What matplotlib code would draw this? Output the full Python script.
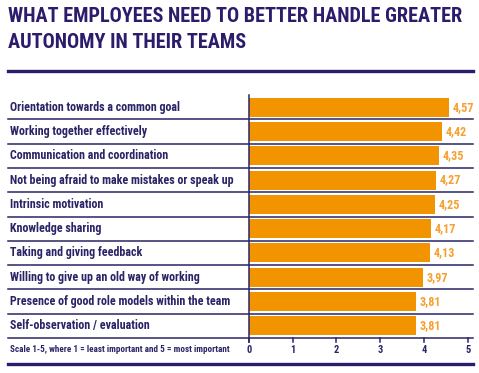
import matplotlib.pyplot as plt
from matplotlib.lines import Line2D
from matplotlib import font_manager

labels = [
    'Orientation towards a common goal',
    'Working together effectively',
    'Communication and coordination',
    'Not being afraid to make mistakes or speak up',
    'Intrinsic motivation',
    'Knowledge sharing',
    'Taking and giving feedback',
    'Willing to give up an old way of working',
    'Presence of good role models within the team',
    'Self-observation / evaluation',
]
values = [4.57, 4.42, 4.35, 4.27, 4.25, 4.17, 4.13, 3.97, 3.81, 3.81]
value_text = ['4,57', '4,42', '4,35', '4,27', '4,25', '4,17', '4,13', '3,97', '3,81', '3,81']
xticks = [0, 1, 2, 3, 4, 5]

title = 'WHAT EMPLOYEES NEED TO BETTER HANDLE GREATER\nAUTONOMY IN THEIR TEAMS'
note = 'Scale 1-5, where 1 = least important and 5 = most important'

names = {f.name for f in font_manager.fontManager.ttflist}
font = 'DejaVu Sans'
for cand in ['Roboto Condensed', 'IBM Plex Sans Condensed', 'Archivo Narrow', 'Barlow Semi Condensed']:
    if cand in names:
        font = cand
        break
plt.rcParams['font.family'] = [font, 'DejaVu Sans']

purple = '#2d1b6b'
navy = '#2a2466'
orange = '#f29400'
orange_txt = '#f5a030'

W, H = 479, 373
fig = plt.figure(figsize=(W / 100, H / 100), dpi=100)
renderer = fig.canvas.get_renderer()


def fit(t, width_px):
    # scale the font so the text is as wide as in the reference
    bb = t.get_window_extent(renderer)
    t.set_fontsize(t.get_fontsize() * width_px / bb.width)


x0, x5 = 249, 467.7
ytop, ybot = 95, 338
ax = fig.add_axes([x0 / W, 1 - ybot / H, (x5 - x0) / W, (ybot - ytop) / H])

n = len(values)
ypos = list(range(n))
ax.barh(ypos, values, height=0.78, color=orange, zorder=2)
vt = []
for y, v, t in zip(ypos, values, value_text):
    vt.append(ax.text(v + 0.08, y, t, va='center', ha='left', color=orange_txt,
                      fontsize=10, fontweight='bold'))
fit(vt[0], 21.5)
for t in vt[1:]:
    t.set_fontsize(vt[0].get_fontsize())

ax.set_xlim(0, 5)
ax.set_ylim(n - 0.5, -0.5)
ax.set_yticks([])
ax.set_xticks([])
for s in ax.spines.values():
    s.set_visible(False)
ax.patch.set_alpha(0)

# row separators spanning the whole width
xmin = (8 - x0) / (x5 - x0)
xmax = (473 - x0) / (x5 - x0)
for i in range(n):
    ax.axhline(i + 0.5, xmin=xmin, xmax=xmax, color=navy, lw=1.1, clip_on=False, zorder=3)

# axis line and ticks
ax.plot([0, 0], [-0.5, n - 0.5 + 0.17], color=navy, lw=1.1, clip_on=False, zorder=3)
tk = []
for t in xticks:
    ax.plot([t, t], [n - 0.5, n - 0.5 + 0.17], color=navy, lw=1.1, clip_on=False)
    tk.append(ax.text(t, n - 0.5 + 0.5, str(t), ha='center', va='center', color=navy,
                      fontsize=7.5, fontweight='bold'))

lt = []
for i, lab in enumerate(labels):
    lt.append(fig.text(10 / W, 1 - (ytop + 24.3 * (i + 0.5)) / H, lab,
                       ha='left', va='center', color=navy, fontsize=9, fontweight='bold'))
fit(lt[3], 224)
for t in lt:
    t.set_fontsize(lt[3].get_fontsize())

nt = fig.text(10 / W, 1 - 350 / H, note, ha='left', va='center', color=navy,
              fontsize=6, fontweight='bold')
fit(nt, 218)

t1 = fig.text(8 / W, 1 - 17 / H, title.split('\n')[0], ha='left', va='center', color=purple,
              fontsize=16, fontweight='bold')
fit(t1, 457)
t2 = fig.text(8 / W, 1 - 43 / H, title.split('\n')[1], ha='left', va='center', color=purple,
              fontsize=t1.get_fontsize(), fontweight='bold')

fig.add_artist(Line2D([8 / W, 473 / W], [1 - 71 / H] * 2, color=purple, lw=2.4))
fig.add_artist(Line2D([8 / W, 473 / W], [1 - 364 / H] * 2, color=purple, lw=2.4))

fig.savefig('out.png', dpi=100)
